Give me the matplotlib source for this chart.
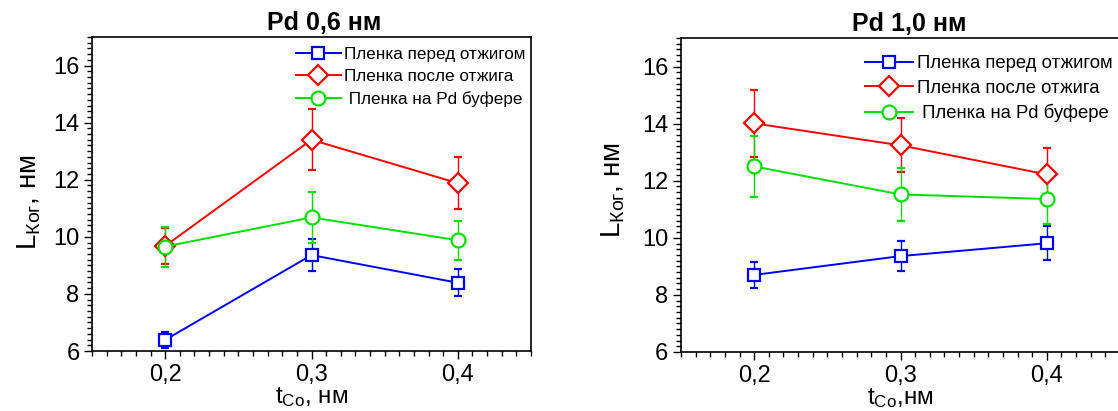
import matplotlib
matplotlib.use("Agg")
import matplotlib.pyplot as plt
from matplotlib.ticker import MultipleLocator, FixedLocator

plt.rcParams['font.family'] = ['Liberation Sans', 'DejaVu Sans']
plt.rcParams['mathtext.fontset'] = 'custom'
plt.rcParams['mathtext.rm'] = 'Liberation Sans'
plt.rcParams['mathtext.it'] = 'Liberation Sans'

# толщина Co, нм
t_co = [0.2, 0.3, 0.4]
tick_labels = ['0,2', '0,3', '0,4']

series_labels = ['Пленка перед отжигом', 'Пленка после отжига', ' Пленка на Pd буфере']

# Pd 0,6 нм
pd06_before = [6.39, 9.36, 8.39]
pd06_before_err = [0.27, 0.55, 0.48]
pd06_after = [9.68, 13.40, 11.88]
pd06_after_err = [0.62, 1.07, 0.90]
pd06_buffer = [9.66, 10.68, 9.88]
pd06_buffer_err = [0.70, 0.88, 0.68]

# Pd 1,0 нм
pd10_before = [8.70, 9.36, 9.81]
pd10_before_err = [0.46, 0.53, 0.60]
pd10_after = [14.01, 13.24, 12.22]
pd10_after_err = [1.18, 0.95, 0.92]
pd10_buffer = [12.50, 11.52, 11.36]
pd10_buffer_err = [1.08, 0.92, 0.86]

colors = ['#0000ff', '#ff0000', '#00e000']
markers = ['s', 'D', 'o']
msizes = [9, 10, 10]

fig = plt.figure(figsize=(11.18, 4.11), dpi=100)
ax1 = fig.add_axes([92 / 1118, 60 / 411, 439 / 1118, 314 / 411])
ax2 = fig.add_axes([681 / 1118, 59 / 411, 439 / 1118, 314 / 411])

panels = [
    (ax1, 'Pd 0,6 нм', r'$\mathregular{t_{Co}}$, нм',
     [(pd06_before, pd06_before_err), (pd06_after, pd06_after_err), (pd06_buffer, pd06_buffer_err)],
     (0.465, 0.968), 12.3, 0.528, (-0.112, 0.475)),
    (ax2, 'Pd 1,0 нм', r'$\mathregular{t_{Co}}$,нм',
     [(pd10_before, pd10_before_err), (pd10_after, pd10_after_err), (pd10_buffer, pd10_buffer_err)],
     (0.42, 0.945), 13.3, 0.52, (-0.122, 0.515)),
]

for ax, title, xlabel, data, leg_pos, leg_fs, title_x, ylab_pos in panels:
    for (vals, errs), c, m, ms, lab in zip(data, colors, markers, msizes, series_labels):
        ax.errorbar(t_co, vals, yerr=errs, color=c, marker=m, ms=ms, mfc='white',
                    mec=c, mew=1.6, lw=1.4, elinewidth=1.0, capsize=3, capthick=1.0,
                    label=lab)
    ax.set_xlim(0.15, 0.45)
    ax.set_ylim(6, 17)
    ax.xaxis.set_major_locator(FixedLocator(t_co))
    ax.set_xticklabels(tick_labels)
    ax.xaxis.set_minor_locator(MultipleLocator(0.01))
    ax.yaxis.set_minor_locator(MultipleLocator(0.2))
    ax.set_yticks([6, 8, 10, 12, 14, 16])
    ax.tick_params(which='major', direction='out', length=6, width=1.0, labelsize=17)
    ax.tick_params(which='minor', direction='out', length=3.5, width=1.0)
    ax.tick_params(axis='x', which='major', pad=3.5)
    ax.tick_params(axis='y', which='major', pad=3)
    for sp in ax.spines.values():
        sp.set_linewidth(1.2)
    ax.set_title(title, fontsize=18, fontweight='bold', x=title_x, pad=5)
    ax.set_xlabel(xlabel, fontsize=17.5, labelpad=-1)
    ax.set_ylabel(r'$\mathregular{L_{Ког}}$, нм', fontsize=20)
    ax.yaxis.set_label_coords(*ylab_pos)
    # в легенде только линия с маркером, без усов погрешности
    handles, labels = ax.get_legend_handles_labels()
    handles = [h[0] for h in handles]
    ax.legend(handles, labels, loc='upper left', bbox_to_anchor=leg_pos, frameon=False,
              fontsize=leg_fs, handlelength=2.6, handletextpad=0.2,
              borderpad=0, borderaxespad=0, labelspacing=0.4)

fig.savefig('out.png', dpi=100, facecolor='white')
